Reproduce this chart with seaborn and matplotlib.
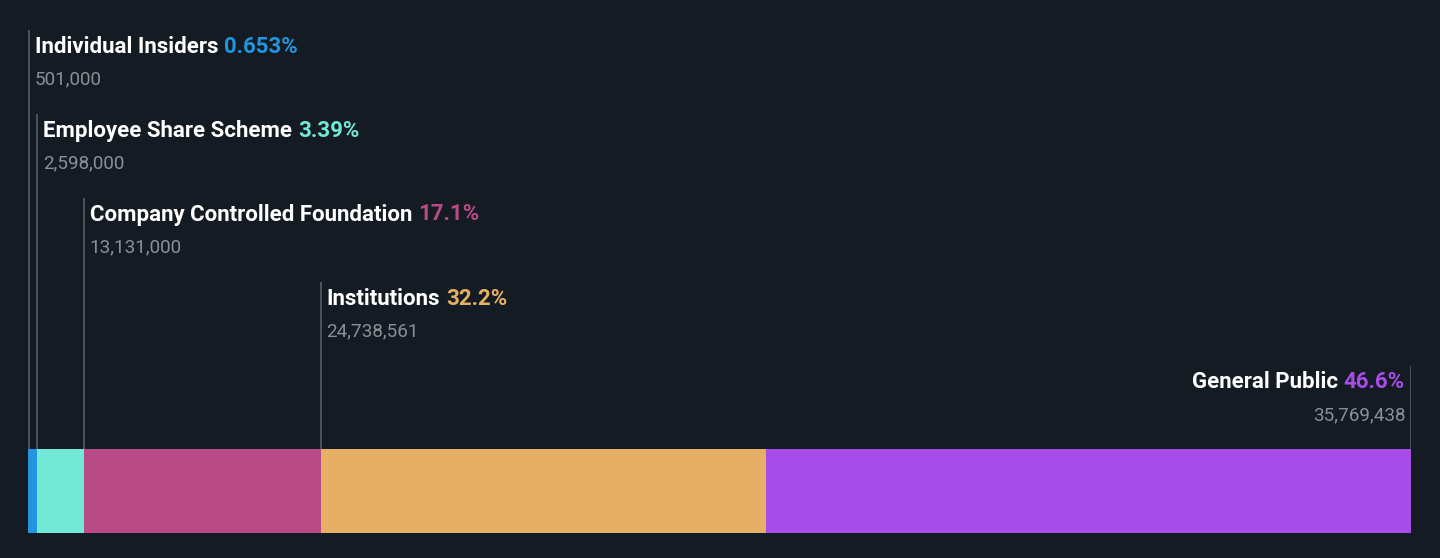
import matplotlib
matplotlib.use("Agg")
import matplotlib.pyplot as plt
import numpy as np
import pandas as pd
import seaborn as sns

# ownership breakdown
groups = ["Individual Insiders", "Employee Share Scheme", "Company Controlled Foundation",
          "Institutions", "General Public"]
percents = [0.653, 3.39, 17.1, 32.2, 46.6]
pct_labels = ["0.653%", "3.39%", "17.1%", "32.2%", "46.6%"]
shares = ["501,000", "2,598,000", "13,131,000", "24,738,561", "35,769,438"]
colors = ["#2394df", "#72e8d6", "#b84b87", "#e5b066", "#a64ce9"]

BG = "#151b23"
W, H = 1440, 558

sns.set_theme(style="white")
plt.rcParams["font.family"] = ["Roboto", "DejaVu Sans"]

fig = plt.figure(figsize=(W / 100, H / 100), dpi=100, facecolor=BG)
ax = fig.add_axes([28 / W, 0, 1383 / W, 1])
ax.set_facecolor(BG)

df = pd.DataFrame({"group": groups, "pct": percents})
df["left"] = df["pct"].cumsum() - df["pct"]
df["right"] = df["pct"].cumsum()
total = df["right"].iloc[-1]

# stacked bar: draw cumulative bars from the longest down so each covers the next
for i in range(len(df) - 1, -1, -1):
    sns.barplot(x=[df["right"].iloc[i] / total * 100], y=["own"], color=colors[i],
                saturation=1, width=0.8, orient="h", ax=ax, linewidth=0)

# pixel rows -> data y (bar centre at 491px, 105 px per unit)
def py(p):
    return (p - 491) / 105

ax.set_xlim(0, 100)
ax.set_ylim(py(H), py(0))
ax.axis("off")

line_tops = [30, 114, 198, 282, 366]
label_base = [52.5, 136.5, 220.5, 304.5, 388.5]
num_base = [84.5, 168.5, 252.5, 336.5, 420.5]
LBL = 16
NUM = 13.6

for i, row in df.iterrows():
    last = i == len(df) - 1
    x = (row["right"] if last else row["left"]) / total * 100
    if i == 0:
        x += 0.07
    ax.vlines(x, py(line_tops[i]), -0.4, color="#5d636b", lw=1.1)
    if not last:
        t1 = ax.annotate(groups[i], xy=(x, py(label_base[i])), xytext=(4.3, 0),
                         textcoords="offset points", ha="left", va="baseline",
                         color="white", fontsize=LBL, fontweight="bold")
        ax.annotate(pct_labels[i], xy=(1, 0), xycoords=t1, xytext=(4.2, 0),
                    textcoords="offset points", ha="left", va="bottom",
                    color=colors[i], fontsize=LBL, fontweight="bold")
        ax.annotate(shares[i], xy=(x, py(num_base[i])), xytext=(4.3, 0),
                    textcoords="offset points", ha="left", va="baseline",
                    color="#8b9097", fontsize=NUM)
    else:
        t2 = ax.annotate(pct_labels[i], xy=(x, py(label_base[i])), xytext=(-4.5, 0),
                         textcoords="offset points", ha="right", va="baseline",
                         color=colors[i], fontsize=LBL, fontweight="bold")
        ax.annotate(groups[i], xy=(0, 0), xycoords=t2, xytext=(-4.2, 0),
                    textcoords="offset points", ha="right", va="bottom",
                    color="white", fontsize=LBL, fontweight="bold")
        ax.annotate(shares[i], xy=(x, py(num_base[i])), xytext=(-4.0, 0),
                    textcoords="offset points", ha="right", va="baseline",
                    color="#8b9097", fontsize=NUM)

fig.savefig("out.png", dpi=100, facecolor=BG)
